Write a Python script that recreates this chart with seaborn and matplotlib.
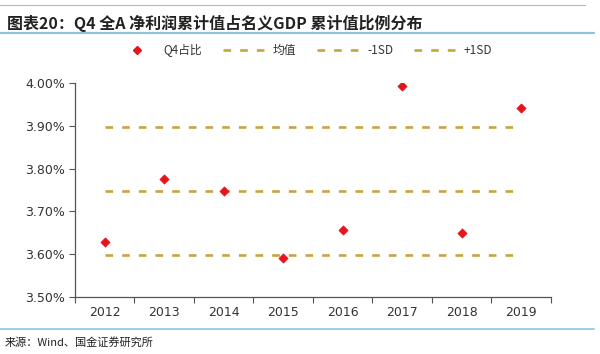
import matplotlib
matplotlib.use("Agg")
import matplotlib.pyplot as plt
import seaborn as sns
import pandas as pd
from matplotlib.lines import Line2D
from matplotlib.ticker import FixedLocator, PercentFormatter

# ============================
# data
# ============================
years = ["2012", "2013", "2014", "2015", "2016", "2017", "2018", "2019"]
q4_share = [3.627, 3.775, 3.748, 3.590, 3.655, 3.994, 3.648, 3.943]
mean_val = 3.748
minus_sd = 3.598
plus_sd = 3.897
y_ticks = [3.50, 3.60, 3.70, 3.80, 3.90, 4.00]

title = "图表20：Q4 全A 净利润累计值占名义GDP 累计值比例分布"
source = "来源：Wind、国金证券研究所"

RED = "#E3141C"
GOLD = "#C9A43E"
BLUE = "#8DC3DB"
DASH = (5.5, 6.5)

sns.set_theme(style="white")
plt.rcParams["font.family"] = ["Noto Sans CJK SC", "DejaVu Sans"]
plt.rcParams["lines.scale_dashes"] = False

df = pd.DataFrame({"year": years, "share": q4_share})

fig = plt.figure(figsize=(6, 3.54), dpi=100)
ax = fig.add_axes([0.125, 0.162, 0.793, 0.603])

# reference lines
for val in [mean_val, minus_sd, plus_sd]:
    sns.lineplot(x=years, y=[val] * len(years), ax=ax, color=GOLD, lw=1.9,
                 dashes=False, sort=False, zorder=2)
for ln in ax.get_lines():
    ln.set_dashes(DASH)

# Q4 share points
sns.scatterplot(data=df, x="year", y="share", ax=ax, marker="D", s=22,
                color=RED, edgecolor=RED, linewidth=0.5, zorder=3)

ax.set_xlim(-0.5, len(years) - 0.5)
ax.set_ylim(y_ticks[0], y_ticks[-1])
ax.set_yticks(y_ticks)
ax.yaxis.set_major_formatter(PercentFormatter(decimals=2))
ax.set_xlabel("")
ax.set_ylabel("")

# excel-like ticks on category boundaries
ax.xaxis.set_minor_locator(FixedLocator([i - 0.5 for i in range(len(years) + 1)]))
ax.tick_params(axis="x", which="major", length=0, pad=7, labelsize=9, colors="#333333")
ax.tick_params(axis="x", which="minor", length=4, width=0.8, color="#555555", direction="out")
ax.tick_params(axis="y", which="major", length=4, width=0.8, color="#555555",
               direction="out", labelsize=9, labelcolor="#333333", pad=3)
ax.xaxis.set_tick_params(bottom=True, which="both")
ax.yaxis.set_tick_params(left=True)
for lab in ax.get_xticklabels() + ax.get_yticklabels():
    lab.set_family(["DejaVu Sans"])

for side in ["top", "right"]:
    ax.spines[side].set_visible(False)
for side in ["left", "bottom"]:
    ax.spines[side].set_color("#555555")
    ax.spines[side].set_linewidth(0.9)

# legend
handles = [
    Line2D([], [], marker="D", ms=4, color=RED, lw=0),
    Line2D([], [], color=GOLD, lw=1.9, dashes=DASH),
    Line2D([], [], color=GOLD, lw=1.9, dashes=DASH),
    Line2D([], [], color=GOLD, lw=1.9, dashes=DASH),
]
labels = ["Q4占比", "均值", "-1SD", "+1SD"]
fig.legend(handles, labels, loc="center", bbox_to_anchor=(0.505, 0.858), ncol=4,
           frameon=False, fontsize=8.5, handlelength=3.9, columnspacing=1.8,
           handletextpad=0.3, labelcolor="#333333")

# title, rules and source
fig.text(0.012, 0.935, title, fontsize=11.5, fontweight="bold", style="italic",
         color="#222222", va="center", ha="left")
fig.add_artist(Line2D([0, 0.975], [0.986, 0.986], color=BLUE, lw=0.8, transform=fig.transFigure))
fig.add_artist(Line2D([0, 0.99], [0.908, 0.908], color=BLUE, lw=1.6, transform=fig.transFigure))
fig.add_artist(Line2D([0, 0.99], [0.071, 0.071], color=BLUE, lw=1.2, transform=fig.transFigure))
fig.text(0.008, 0.034, source, fontsize=8, color="#222222", va="center", ha="left")

fig.savefig("out.png", dpi=100)
